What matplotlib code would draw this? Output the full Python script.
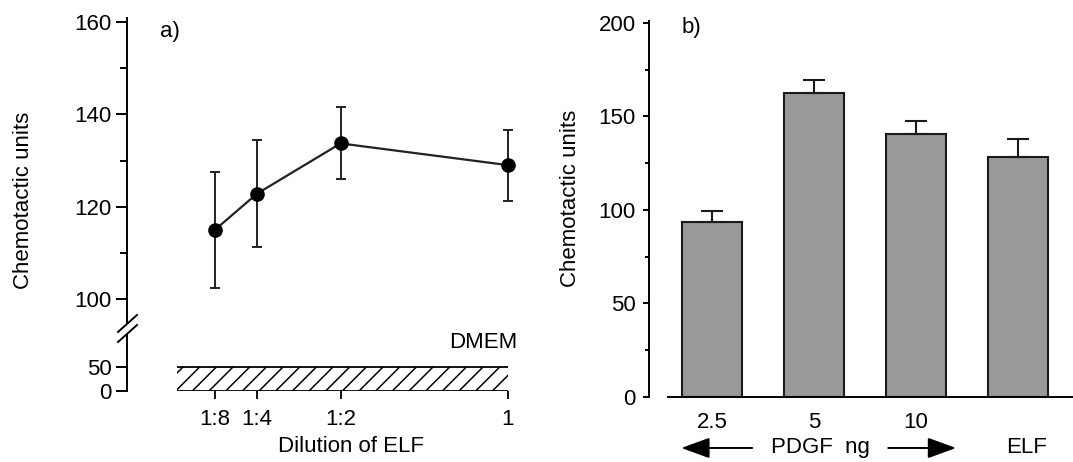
import matplotlib
matplotlib.use('Agg')
import matplotlib.pyplot as plt
import matplotlib.transforms as mtransforms
from matplotlib.lines import Line2D

plt.rcParams['font.family'] = ['Liberation Sans', 'DejaVu Sans']
plt.rcParams['font.size'] = 16
plt.rcParams['hatch.linewidth'] = 1.1

# ----- Panel a data -----
dilution_labels = ['1:8', '1:4', '1:2', '1']
dilution_frac = [0.125, 0.25, 0.5, 1.0]
elf_units = [115.0, 122.8, 133.7, 129.0]
elf_err = [12.6, 11.6, 7.8, 7.7]
dmem_units = 50

# ----- Panel b data -----
bar_labels = ['2.5', '5', '10']
bar_units = [93.7, 162.4, 140.6, 128.5]
bar_err = [5.9, 7.1, 6.8, 9.3]

W, H = 1073, 462
fig = plt.figure(figsize=(W / 100, H / 100), dpi=100)


def fig_rect(left, top, right, bottom):
    # pixel box -> figure fraction
    return [left / W, 1 - bottom / H, (right - left) / W, (bottom - top) / H]


# ----- Panel a: broken axis -----
ax_top = fig.add_axes(fig_rect(126.7, 18, 520, 323))
ax_bot = fig.add_axes(fig_rect(126.7, 335, 520, 391))

for ax in (ax_top, ax_bot):
    ax.set_xlim(-0.139, 1.036)
    for s in ('top', 'right', 'bottom'):
        ax.spines[s].set_visible(False)
    ax.spines['left'].set_linewidth(1.4)
    ax.tick_params(axis='y', which='major', length=8, width=1.4, pad=3)
    ax.tick_params(axis='y', which='minor', length=5, width=1.4)

ax_top.errorbar(dilution_frac, elf_units, yerr=elf_err, color='#222222',
                lw=1.6, marker='o', ms=9.5, mfc='black', mec='black',
                capsize=3.3, elinewidth=1.4, capthick=1.4, clip_on=False)
ax_top.set_ylim(94.8, 160.87)
ax_top.set_yticks([100, 120, 140, 160])
ax_top.set_yticks([110, 130, 150], minor=True)
ax_top.set_xticks([])

ax_bot.fill_between([0.01, 1.0], 0, dmem_units, hatch='//', facecolor='white',
                    edgecolor='black', linewidth=0)
ax_bot.hlines([0, dmem_units], 0.01, 1.0, color='black', lw=1.3)
ax_bot.set_ylim(0, 116.7)
ax_bot.set_yticks([0, 50])
ax_bot.set_xticks(dilution_frac)
ax_bot.set_xticklabels(dilution_labels)
ax_bot.tick_params(axis='x', length=6, width=1.3, pad=7)
ax_bot.text(1.027, 102, 'DMEM', ha='right', va='center')
ax_bot.text(0.53, -1.0, 'Dilution of ELF', ha='center', va='center',
            transform=mtransforms.blended_transform_factory(ax_bot.transData,
                                                            ax_bot.transAxes))

# break marks on the y axis
for y0 in (332, 342):
    fig.add_artist(Line2D([118 / W, 137 / W], [1 - y0 / H, 1 - (y0 - 17) / H],
                          color='black', lw=1.4))

fig.text(24 / W, 1 - 200 / H, 'Chemotactic units', rotation=90,
         ha='center', va='center')
fig.text(160 / W, 1 - 32 / H, 'a)', ha='left', va='center')

# ----- Panel b: bars -----
axb = fig.add_axes(fig_rect(649, 21, 1073, 397))
xpos = list(range(len(bar_units)))
axb.bar(xpos, bar_units, width=0.59, color='#999999', edgecolor='#1a1a1a',
        linewidth=1.5, zorder=2)
axb.errorbar(xpos, bar_units, yerr=[[0] * len(bar_err), bar_err], fmt='none',
             ecolor='#1a1a1a', elinewidth=1.5, capsize=8, capthick=1.5,
             zorder=3)
axb.set_xlim(-0.62, 3.54)
axb.set_ylim(0, 201)
for s in ('top', 'right'):
    axb.spines[s].set_visible(False)
axb.spines['bottom'].set_bounds(-0.43, 3.54)
axb.spines['left'].set_linewidth(1.4)
axb.spines['bottom'].set_linewidth(1.4)
axb.set_yticks(range(0, 201, 50))
axb.set_yticks(range(25, 200, 50), minor=True)
axb.tick_params(axis='y', which='major', length=4.5, width=1.4, pad=5)
axb.tick_params(axis='y', which='minor', length=3, width=1.4)
axb.set_xticks(xpos[:3])
axb.set_xticklabels(bar_labels)
axb.tick_params(axis='x', length=0, pad=11)

trans_b = mtransforms.blended_transform_factory(axb.transData, axb.transAxes)
row_y = -0.1356
axb.text(1.06, row_y, 'PDGF  ng', ha='center', va='center', transform=trans_b)
axb.text(3.08, row_y, 'ELF', ha='center', va='center', transform=trans_b)
arrow_style = dict(arrowstyle='-|>,head_length=1.1,head_width=0.4',
                   color='black', lw=1.4, mutation_scale=16)
axb.annotate('', xy=(-0.33, row_y), xytext=(0.42, row_y), xycoords=trans_b,
             textcoords=trans_b, arrowprops=arrow_style, annotation_clip=False)
axb.annotate('', xy=(2.42, row_y), xytext=(1.70, row_y), xycoords=trans_b,
             textcoords=trans_b, arrowprops=arrow_style, annotation_clip=False)

fig.text(570 / W, 1 - 198 / H, 'Chemotactic units', rotation=90,
         ha='center', va='center')
fig.text(682 / W, 1 - 28 / H, 'b)', ha='left', va='center')

fig.savefig('out.png', dpi=100)
